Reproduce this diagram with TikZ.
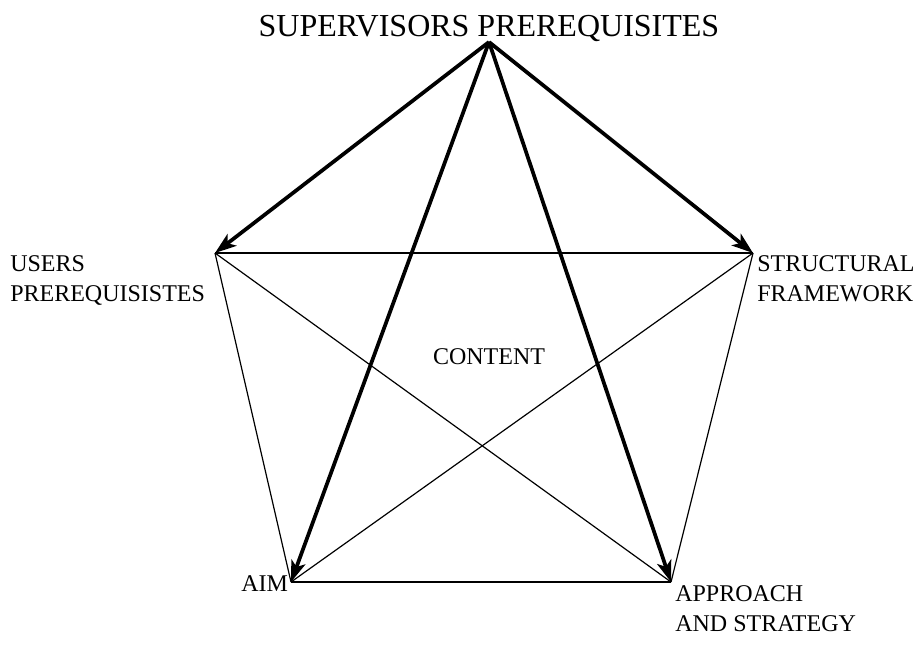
\documentclass[tikz,border=0pt]{standalone}
\usepackage{fontspec}
\setmainfont{Liberation Serif}
\usetikzlibrary{arrows.meta}
\tikzset{
  thinline/.style={line width=0.9pt, line join=miter},
  bigarrow/.style={line width=2.8pt, -{Stealth[length=16pt,width=11pt,inset=4pt]}},
  lbl/.style={inner sep=0pt, align=left, font=\fontsize{18}{22.5}\selectfont},
}
\begin{document}
\begin{tikzpicture}[x=0.75pt,y=-0.75pt]
\useasboundingbox (0,0) rectangle (920,660);
\coordinate (A) at (489,42);
\coordinate (L) at (215,253);
\coordinate (R) at (753,253);
\coordinate (BL) at (291,582);
\coordinate (BR) at (671,582);
% thin lines
\draw[thinline] (L) -- (R);
\draw[thinline] (L) -- (BL);
\draw[thinline] (L) -- (BR);
\draw[thinline] (R) -- (BL);
\draw[thinline] (R) -- (BR);
\draw[thinline] (BL) -- (BR);
% thick arrows
\draw[bigarrow] (A) -- (L);
\draw[bigarrow] (A) -- (R);
\draw[bigarrow] (A) -- (BL);
\draw[bigarrow] (A) -- (BR);
% labels
\node[inner sep=0pt, anchor=base, font=\fontsize{24}{28}\selectfont] (title) at (489,37) {SUPERVISORS PREREQUISITES};
\node[lbl, anchor=north west] (users) at (10,255) {USERS\\PREREQUISISTES};
\node[lbl, anchor=north west] (struct) at (757,255) {STRUCTURAL\\FRAMEWORK};
\node[lbl, anchor=base west] (aim) at (241,591) {AIM};
\node[lbl, anchor=north west] (appr) at (675,585) {APPROACH\\AND STRATEGY};
\node[lbl, anchor=base] (content) at (489,364) {CONTENT};
\end{tikzpicture}
\end{document}
